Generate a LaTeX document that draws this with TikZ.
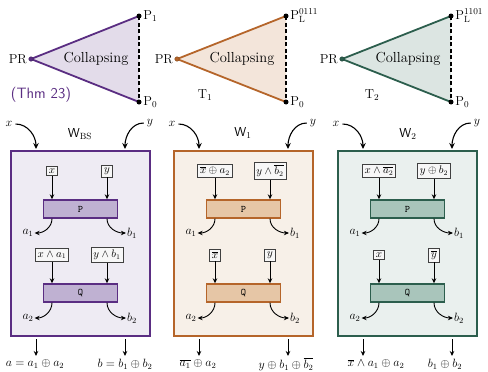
\documentclass[tikz,border=0pt]{standalone}
\usepackage{amsmath}
\usetikzlibrary{arrows.meta}
\definecolor{puB}{HTML}{5A2D82}
\definecolor{puF}{HTML}{EEEBF3}
\definecolor{puG}{HTML}{BFB1D2}
\definecolor{puT}{HTML}{E3DCEA}
\definecolor{orB}{HTML}{B5652A}
\definecolor{orF}{HTML}{F7F0E8}
\definecolor{orG}{HTML}{E6C6A6}
\definecolor{orT}{HTML}{F3E5DA}
\definecolor{grB}{HTML}{2C5E4D}
\definecolor{grF}{HTML}{EAF0EE}
\definecolor{grG}{HTML}{A9C5BB}
\definecolor{grT}{HTML}{DCE5E2}
\tikzset{
  arr/.style={-{Stealth[length=5pt,width=4.5pt]}, line width=0.9pt},
  inarr/.style={-{Stealth[length=6pt,width=5.5pt]}, line width=1.1pt},
  inbox/.style={draw=black!75, line width=0.6pt, fill=white!97!black, inner sep=2.4pt, font=\fontsize{10.5}{11}\selectfont},
  gate/.style={minimum width=74pt, minimum height=18pt, line width=1.4pt, inner sep=0pt, font=\ttfamily\fontsize{10}{11}\selectfont},
  panelbox/.style={minimum width=139pt, minimum height=185pt, line width=1.6pt, inner sep=0pt},
  lab/.style={font=\fontsize{11.5}{12}\selectfont, inner sep=1pt},
  wlab/.style={font=\sffamily\fontsize{13}{14}\selectfont, inner sep=1pt},
  trilab/.style={font=\fontsize{13}{14}\selectfont, inner sep=1.5pt},
  coll/.style={font=\fontsize{14.5}{16}\selectfont},
  blackdot/.style={circle, fill=black, inner sep=0pt, minimum size=5pt},
  edge/.style={line width=1.8pt, line cap=round},
  dashedge/.style={line width=1.8pt, dashed, dash pattern=on 4pt off 2.5pt},
}
\newcommand{\mypanel}[9]{%
  \begin{scope}[xshift=#2pt]
    \node[panelbox, draw=#3, fill=#4] (#1box) at (69.5,243.5) {};
    \node[inbox] (#1pl) at (41,171) {#6};
    \node[inbox] (#1pr) at (96,171) {#7};
    \node[gate, draw=#3, fill=#5] (#1P) at (69.5,209) {P};
    \node[lab] (#1a1) at (17,233) {$a_1$};
    \node[lab] (#1b1) at (121,233) {$b_1$};
    \node[inbox] (#1ql) at (41,255) {#8};
    \node[inbox] (#1qr) at (96,255) {#9};
    \node[gate, draw=#3, fill=#5] (#1Q) at (69.5,293) {Q};
    \node[lab] (#1a2) at (17,318) {$a_2$};
    \node[lab] (#1b2) at (121,318) {$b_2$};
    \draw[arr] (#1pl) -- (#1P.north -| #1pl);
    \draw[arr] (#1pr) -- (#1P.north -| #1pr);
    \draw[arr] (#1P.south -| #1pl) to[out=-90,in=0] (#1a1.east);
    \draw[arr] (#1P.south -| #1pr) to[out=-90,in=180] (#1b1.west);
    \draw[arr] (#1ql) -- (#1Q.north -| #1ql);
    \draw[arr] (#1qr) -- (#1Q.north -| #1qr);
    \draw[arr] (#1Q.south -| #1ql) to[out=-90,in=0] (#1a2.east);
    \draw[arr] (#1Q.south -| #1qr) to[out=-90,in=180] (#1b2.west);
    \node[lab] (#1x) at (-2,124) {$x$};
    \node[lab] (#1y) at (139,123) {$y$};
    \coordinate (#1xe) at (25,149);
    \coordinate (#1ye) at (114,149);
    \draw[inarr] ([xshift=2pt]#1x.east) to[out=0,in=90] (#1xe);
    \draw[inarr] ([xshift=-2pt]#1y.west) to[out=180,in=90] (#1ye);
    \coordinate (#1s1) at (25,339);
    \coordinate (#1s2) at (114,339);
    \coordinate (#1e1) at (25,356);
    \coordinate (#1e2) at (114,356);
    \draw[arr] (#1s1) -- (#1e1);
    \draw[arr] (#1s2) -- (#1e2);
  \end{scope}}
\begin{document}
\begin{tikzpicture}[x=1pt,y=-1pt]
\useasboundingbox (0,0) rectangle (488,372);
% ---------- triangles ----------
% panel 1
\coordinate (A) at (31,59);
\coordinate (At) at (139,16);
\coordinate (Ab) at (139,102);
\fill[puT] (A) -- (At) -- (Ab) -- cycle;
\draw[edge, puB] (Ab) -- (A) -- (At);
\draw[dashedge] (At) -- (Ab);
\node[circle, fill=puB, draw=puB!70!black, inner sep=0pt, minimum size=4.5pt] (Apr) at (A) {};
\node[blackdot] (Ap1) at (At) {};
\node[blackdot] (Ap0) at (Ab) {};
\node[trilab, anchor=east] at (Apr.west) {PR};
\node[trilab, anchor=west] at (Ap1.east) {P$_1$};
\node[trilab, anchor=west] at (Ap0.east) {P$_0$};
\node[coll] at (96,59) {Collapsing};
\node[font=\sffamily\fontsize{15}{16}\selectfont, text=puB] at (41,95) {(Thm 23)};
% panel 2
\coordinate (B) at (177,59);
\coordinate (Bt) at (286,16);
\coordinate (Bb) at (286,102);
\fill[orT] (B) -- (Bt) -- (Bb) -- cycle;
\draw[edge, orB] (Bb) -- (B) -- (Bt);
\draw[dashedge] (Bt) -- (Bb);
\node[circle, fill=orB, draw=orB!70!black, inner sep=0pt, minimum size=4.5pt] (Bpr) at (B) {};
\node[blackdot] (Bp1) at (Bt) {};
\node[blackdot] (Bp0) at (Bb) {};
\node[trilab, anchor=east] at (Bpr.west) {PR};
\node[trilab, anchor=west, inner sep=0.5pt] at ([xshift=1pt]Bp1.east) {P$_{\mathrm{L}}^{0111}$};
\node[trilab, anchor=west] at (Bp0.east) {P$_0$};
\node[coll] at (242,59) {Collapsing};
\node[trilab] at (205,95) {T$_1$};
% panel 3
\coordinate (C) at (342,59);
\coordinate (Ct) at (451,16);
\coordinate (Cb) at (451,102);
\fill[grT] (C) -- (Ct) -- (Cb) -- cycle;
\draw[edge, grB] (Cb) -- (C) -- (Ct);
\draw[dashedge] (Ct) -- (Cb);
\node[circle, fill=grB, draw=grB!70!black, inner sep=0pt, minimum size=4.5pt] (Cpr) at (C) {};
\node[blackdot] (Cp1) at (Ct) {};
\node[blackdot] (Cp0) at (Cb) {};
\node[trilab, anchor=east] at (Cpr.west) {PR};
\node[trilab, anchor=west, inner sep=0.5pt] at ([xshift=1pt]Cp1.east) {P$_{\mathrm{L}}^{1101}$};
\node[trilab, anchor=west] at (Cp0.east) {P$_0$};
\node[coll] at (408,59) {Collapsing};
\node[trilab] at (372,95) {T$_2$};
% ---------- boxes ----------
\mypanel{A}{11}{puB}{puF}{puG}{$x$}{$y$}{$x\wedge a_1$}{$y\wedge b_1$}
\node[wlab] at (80,134) {W$_{\mathrm{BS}}$};
\node[lab] at (35,364) {$a=a_1\oplus a_2$};
\node[lab] at (125,364) {$b=b_1\oplus b_2$};
\mypanel{B}{174}{orB}{orF}{orG}{$\overline{x}\oplus a_2$}{$y\wedge\overline{b_2}$}{$\overline{x}$}{$y$}
\node[wlab] at (243,133) {W$_1$};
\node[lab] at (198,364) {$\overline{a_1}\oplus a_2$};
\node[lab] at (286,364) {$y\oplus b_1\oplus\overline{b_2}$};
\mypanel{C}{338}{grB}{grF}{grG}{$x\wedge\overline{a_2}$}{$y\oplus b_2$}{$x$}{$\overline{y}$}
\node[wlab] at (408,134) {W$_2$};
\node[lab] at (376,364) {$\overline{x}\wedge a_1\oplus a_2$};
\node[lab] at (445,364) {$b_1\oplus b_2$};
\end{tikzpicture}
\end{document}
